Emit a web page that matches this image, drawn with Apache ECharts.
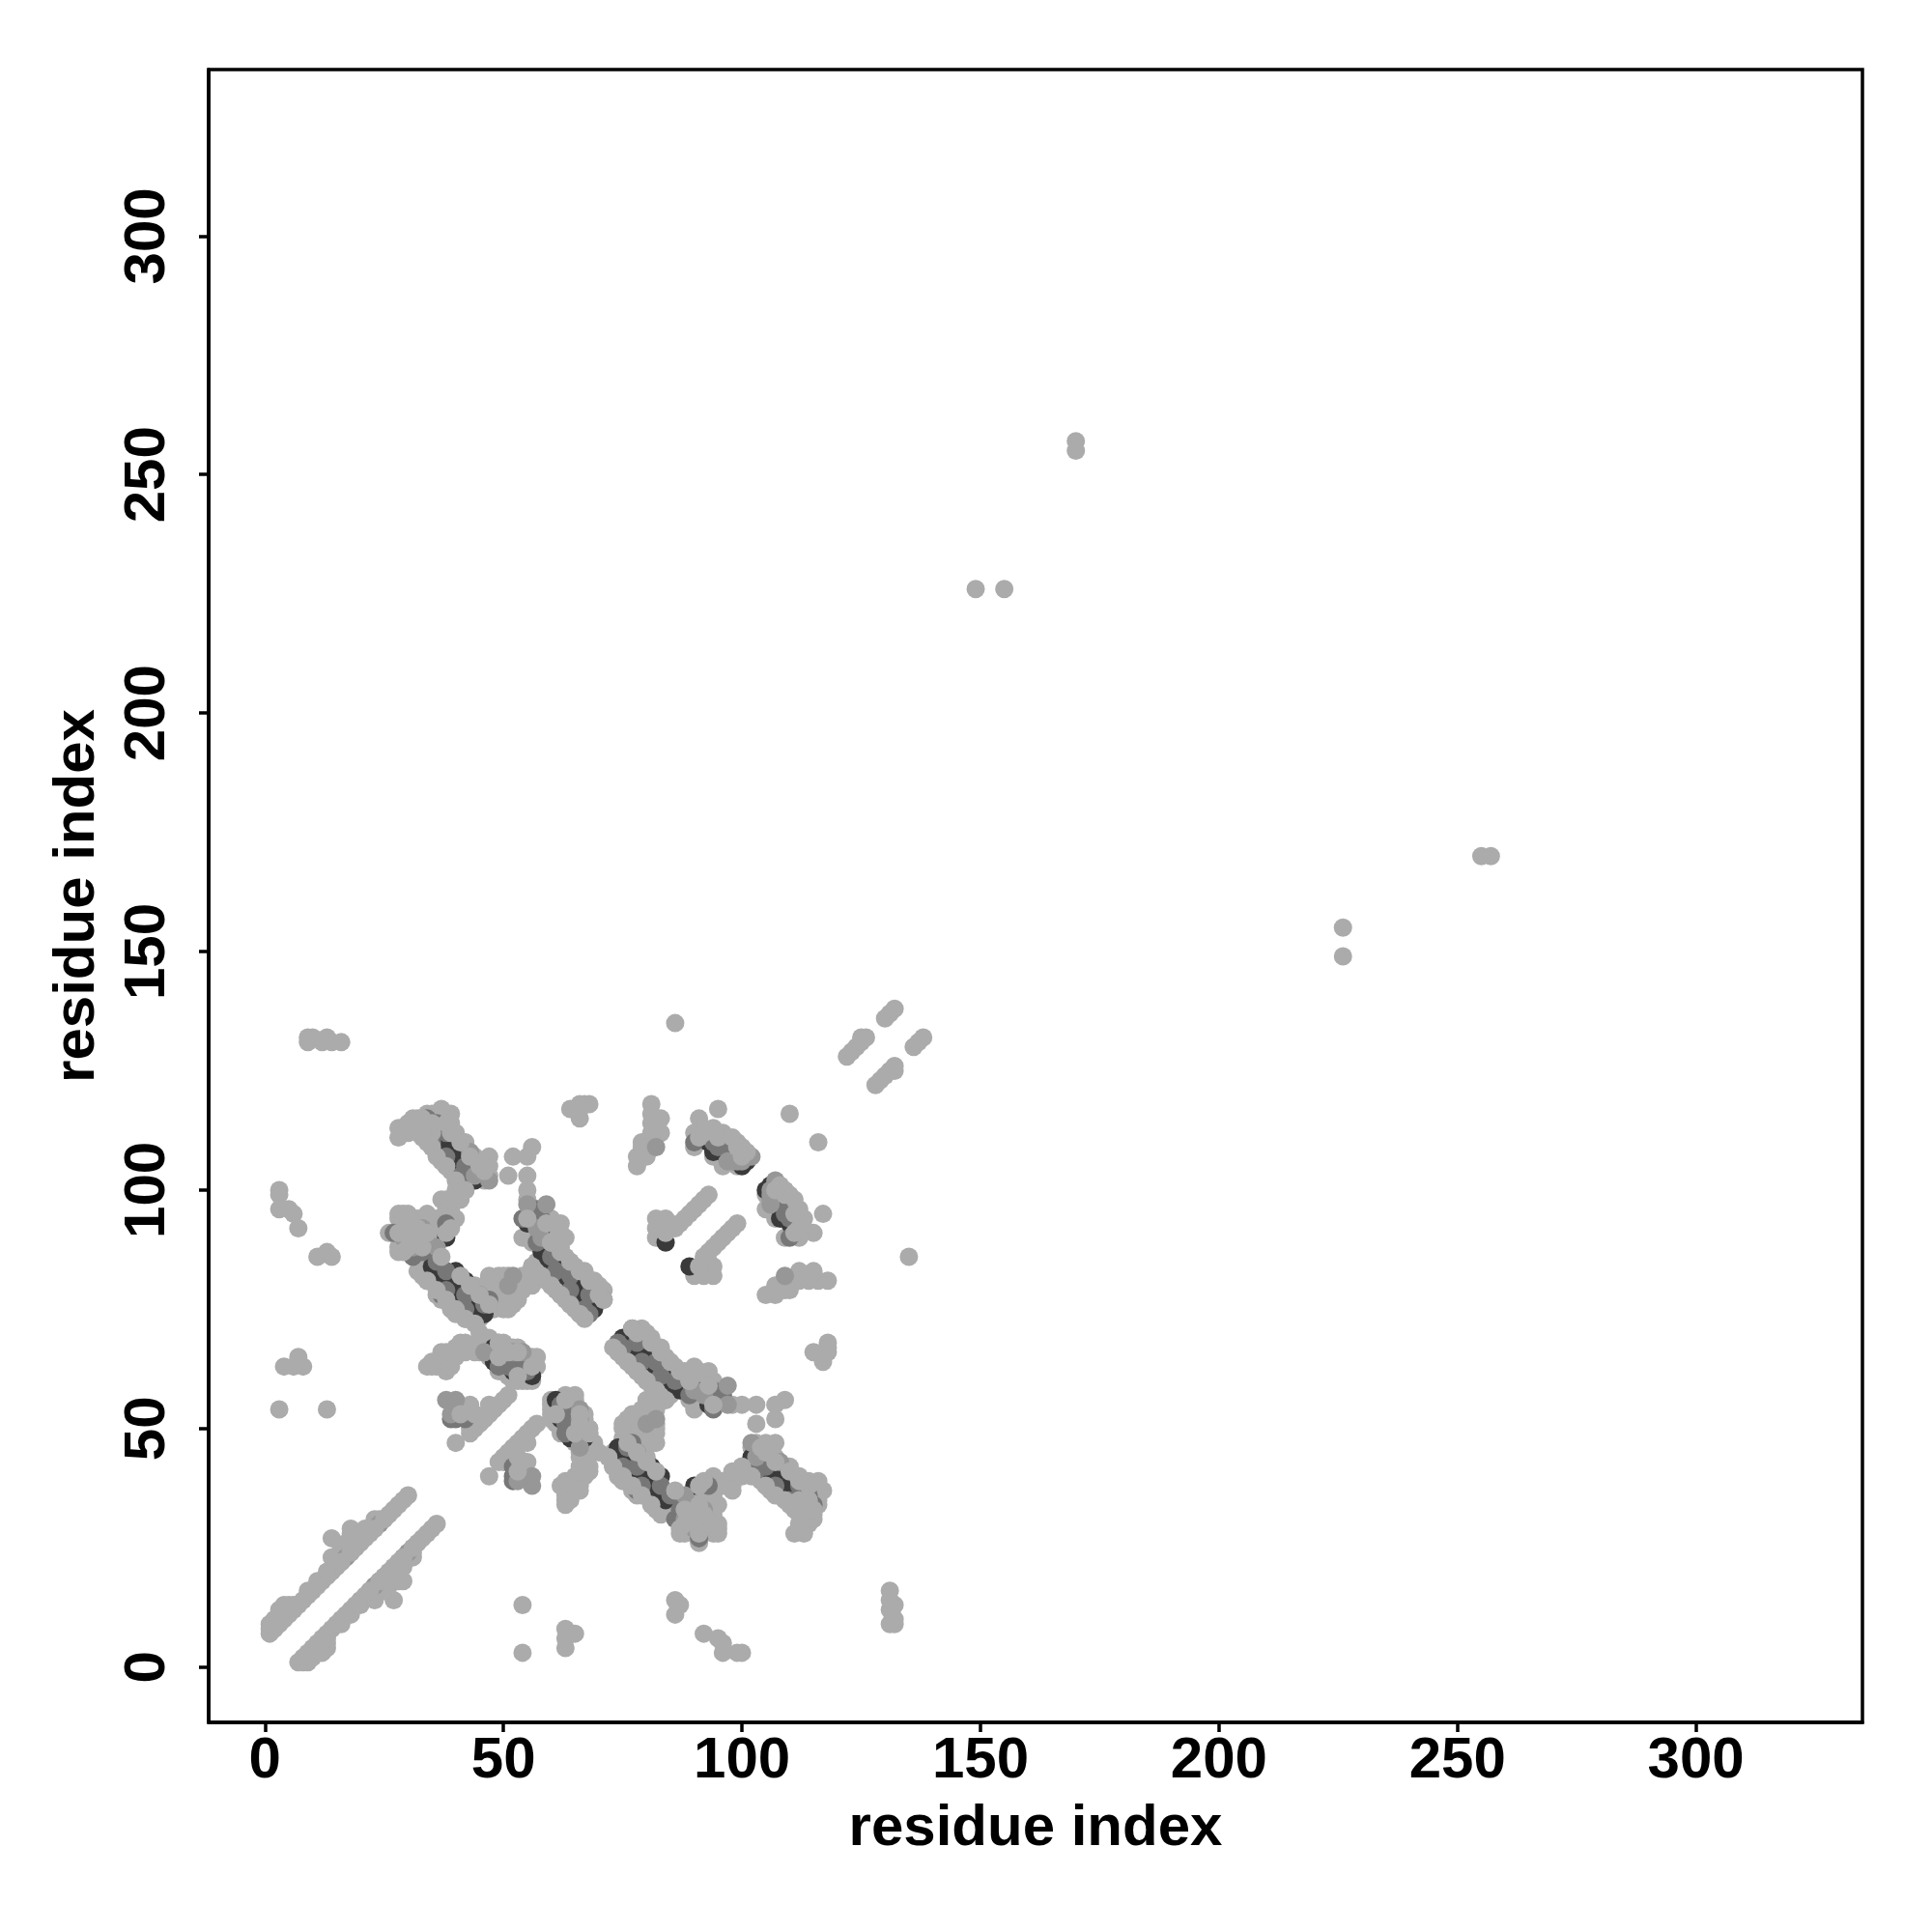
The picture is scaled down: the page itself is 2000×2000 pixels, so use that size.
<!DOCTYPE html>
<html><head><meta charset="utf-8">
<style>html,body{margin:0;padding:0;background:#fff}#c{width:2000px;height:2000px}</style>
<script src="https://cdn.jsdelivr.net/npm/echarts@6/dist/echarts.min.js"></script>
</head><body><div id="c"></div>
<script>
const tickValues = [0, 50, 100, 150, 200, 250, 300];
const xTitle = 'residue index';
const yTitle = 'residue index';
// contacts above the diagonal as [i, j]; the map is symmetric, so each is also drawn as [j, i]
const baseContacts = [
 [1,7],[2,8],[3,9],[4,10],[5,11],[6,12],[7,13],[8,14],[9,15],[10,16],[11,17],[12,18],[13,19],[14,20],[15,21],
 [16,22],[17,23],[18,24],[19,25],[20,26],[21,27],[22,28],[23,29],[24,30],[25,31],[26,32],[27,33],[28,34],[29,35],[30,36],
 [1,8],[1,9],[2,10],[3,11],[3,12],[4,12],[4,13],[5,13],[6,13],[9,16],[11,18],[13,20],[14,23],
 [14,27],[16,25],[17,26],[18,27],[18,28],[18,29],[19,26],[20,28],[21,29],[22,29],[23,31],[24,31],
 [43,49],[44,50],[45,51],[46,52],[47,53],[48,54],[49,55],[50,56],[51,57],
 [40,47],[43,50],[43,52],[41,53],[44,53],[43,55],[47,55],[40,53],
 [34,63],[35,63],[36,63],[37,64],[38,62],[38,66],[39,65],[37,66],[40,67],[40,65],[41,68],[42,68],[43,67],[44,67],[45,70],[46,67],[47,69],
 [49,68],[49,66],[49,62],[50,66],[50,68],[51,65],[53,67],[53,62],[54,60],[52,60],[57,65],[57,63],[56,60],
 [50,62],[50,63],[51,61],[51,67],[52,67],[53,60],[54,62],[55,60],[55,65],[56,65],[47,67],[47,65],[46,68],[45,66],[45,68],[44,66],[41,66],[42,66],[39,63],[38,64],[36,64],[35,64],
 [28,113],[28,111],[32,115],[32,112],[31,113],[34,116],[36,116],[37,117],[39,116],[39,114],[40,112],[42,110],[47,107],[47,105],[45,105],
 [41,102],[37,107],[33,111],[30,112],
 [29,112],[30,114],[30,113],[31,115],[33,114],[33,113],[35,116],[35,113],[36,115],[38,115],[38,116],
 [44,107],[45,106],[46,104],[46,102],[47,103],
 [34,111],[35,109],[37,106],[38,105],[39,104],[42,100],
 [38,98],[40,100],[42,100],[37,98],[40,94],[36,94],[39,96],[38,96],[41,98],
 [28,87],[28,88],[28,90],[28,94],[28,95],[29,95],[30,95],[30,87],[32,94],[32,86],[34,93],[26,91],[32,83],[29,88],[31,91],[35,92],
 [29,92],[31,93],[33,93],[33,90],[35,90],[35,88],[34,95],
 [38,83],[39,77],[37,79],[41,75],[44,80],[46,80],[45,73],[49,82],[49,77],[48,75],[52,76],[52,78],[48,79],[54,82],[56,80],[56,84],[46,79],[51,75],[53,80],[49,80],
 [50,79],[51,82],[53,77],[54,79],[55,81],[50,75],[47,80],[47,82],[48,81],[50,82],
 [33,82],[34,81],[36,78],[37,77],[39,75],[40,74],[42,73],[44,72],
 [56,109],[52,107],[55,107],[51,103],[55,103],[55,100],[54,90],[56,89],[61,93],[63,90],[60,90],[60,94],[55,98],[56,95],
 [61,91],[62,93],[62,91],[59,92],[56,91],[62,88],
 [57,85],[63,86],[65,84],[67,83],[69,80],[69,81],[70,79],[67,74],[60,81],[64,79],[65,76],[61,86],[68,79],[57,83],
 [60,88],[62,87],[70,80],[71,79],
 [57,82],[58,82],[59,81],[60,80],[61,79],[62,78],[63,77],[64,76],[65,75],[66,74],
 [66,115],[64,117],[66,118],[68,118],[66,117],[67,118],
 [81,118],[81,116],[83,115],[83,112],[81,112],[79,110],[80,107],[78,107],[78,105],[80,108],[79,109],[81,114],
 [95,117],[91,115],[94,113],[90,112],[90,109],[92,113],[96,112],[99,110],[100,109],[99,105],[94,107],[96,105],
 [110,116],
 [93,99],[92,98],[91,97],[90,96],[89,95],[88,94],[87,93],[82,94],[84,94],[82,92],[82,90],[83,92],[85,92],[86,92],[85,93],
 [122,128],[123,129],[124,130],[125,131],[125,132],[126,132],[130,136],[131,137],[132,138],
 [3,54],[13,54],[4,63],[7,64],[8,63],[6,63],[7,65],
 [11,86],[13,87],[14,86],[3,100],[3,99],[3,96],[6,95],[7,92],[5,96],
 [9,131],[9,132],[10,132],[12,131],[13,132],[14,131],[16,131],
 [86,135],[149,226],[155,226],[170,255],[170,257]
];
const darkContacts = [
 [36,112],[37,111],[37,110],[38,109],[39,108],[40,107],[41,105],[42,104],[43,103],[44,102],
 [38,90],[35,84],[36,83],[37,82],[38,81],[39,80],[40,79],[41,78],[42,77],[43,76],[44,76],[45,75],[46,74],[40,83],[42,81],
 [55,93],[58,92],[58,88],[59,88],
 [58,87],[59,86],[60,85],[61,84],[62,83],[63,82],[64,81],[65,80],[66,79],[67,78],[68,76],[69,75],
 [48,67],[48,64],[52,64],[52,62],[56,61],
 [84,89],[93,110],[94,108],[96,108],[97,107],[100,105],[101,106]
];
const midContacts = [
 [38,112],[38,107],[42,105],[41,103],[38,83],[38,79],[42,78],[42,75],[46,76],[60,86],[61,83],[64,82],[64,79],[68,78],[67,75],
 [34,115],[36,114],[34,112],[35,110],[34,89],[36,87],[31,86],[33,87],[38,93],
 [36,85],[37,78],[45,78],[47,77],
 [54,94],[57,89],[61,87],[68,74],
 [40,52],[42,52],[39,52],[49,67],[51,63],[53,64],[55,62],[49,63],
 [90,110],[94,110],[98,108],[100,107],[95,109],[30,91],[27,91],[32,90],
 [57,96],[58,94]
];
const softContacts = [
 [17,23],[24,30],[38,56],[40,56],[47,102],[45,104],[44,103],[43,108],
 [51,80],[52,82],[55,97],[59,97],[71,77],[82,109],[39,53],[36,88],[31,88],[29,90],[33,92],[54,66],[52,66],
 [100,106],[102,107],[99,106],[98,106],[97,106],[57,92],[58,90],[46,66]
];
const topContacts = [
 [18,24],[16,22],[25,31],[23,29],
 [38,114],[39,112],[41,110],[43,107],[45,105],[46,104],[35,109],[36,107],[38,105],[40,102],[42,100],
 [37,86],[41,82],[43,80],[45,78],[47,76],[34,81],[36,79],[38,77],[40,75],[42,73],[44,72],
 [60,89],[62,87],[64,85],[66,83],[68,81],[70,78],[71,77],[56,84],[58,82],[60,80],[62,78],[64,76],[66,74],[67,73],
 [35,114],[33,115],[35,112],[34,110],[33,112],
 [38,91],[39,92],[84,91],[91,111],[92,112],[95,111],[98,111],[99,109],[101,108],[100,107],
 [55,94],[59,93],[60,89],[28,91],[30,93],[31,90],[33,88],[29,87],[32,92],[34,91],[30,88],
 [49,68],[49,65],[53,66],[53,61],[56,63],[51,66],[41,53],[44,53]
];
const layerColors = ['#ababab', '#3a3a3a', '#777777', '#979797', '#ababab'];
const layers = [baseContacts, darkContacts, midContacts, softContacts, topContacts];

const both = list => list.flatMap(([i, j]) => [[i, j], [j, i]]);
const font = 'Liberation Sans';
const axisCommon = {
  type: 'value', splitLine: {show: false},
  nameLocation: 'middle',
  nameTextStyle: {fontFamily: font, fontWeight: 'bold', fontSize: 60, color: '#000'},
  axisLine: {show: true, onZero: false, lineStyle: {color: '#000', width: 3.5}},
  axisTick: {show: true, length: 10, customValues: tickValues, lineStyle: {color: '#000', width: 3.5}},
};
const labelCommon = {fontFamily: font, fontWeight: 'bold', fontSize: 60, color: '#000', customValues: tickValues, hideOverlap: false, showMinLabel: true, showMaxLabel: true};
const chart = echarts.init(document.getElementById('c'), null, {renderer: 'canvas'});
chart.setOption({
  animation: false,
  backgroundColor: '#fff',
  grid: {left: 216, right: 72, top: 72, bottom: 217, show: true, borderColor: '#000', borderWidth: 3.5, backgroundColor: 'transparent'},
  xAxis: Object.assign({}, axisCommon, {min: -11.8, max: 334.9, name: xTitle, nameGap: 80, axisLabel: Object.assign({}, labelCommon, {margin: 10})}),
  yAxis: Object.assign({}, axisCommon, {min: -11.6, max: 334.9, name: yTitle, nameGap: 106, nameRotate: 90, axisLabel: Object.assign({}, labelCommon, {rotate: 90, margin: 33, align: 'center', verticalAlign: 'bottom'})}),
  series: layers.map((list, k) => ({
    type: 'scatter', data: both(list), symbol: 'circle', symbolSize: 19,
    itemStyle: {color: layerColors[k], opacity: 1}, z: 2 + k, silent: true, large: false
  }))
});
</script></body></html>
